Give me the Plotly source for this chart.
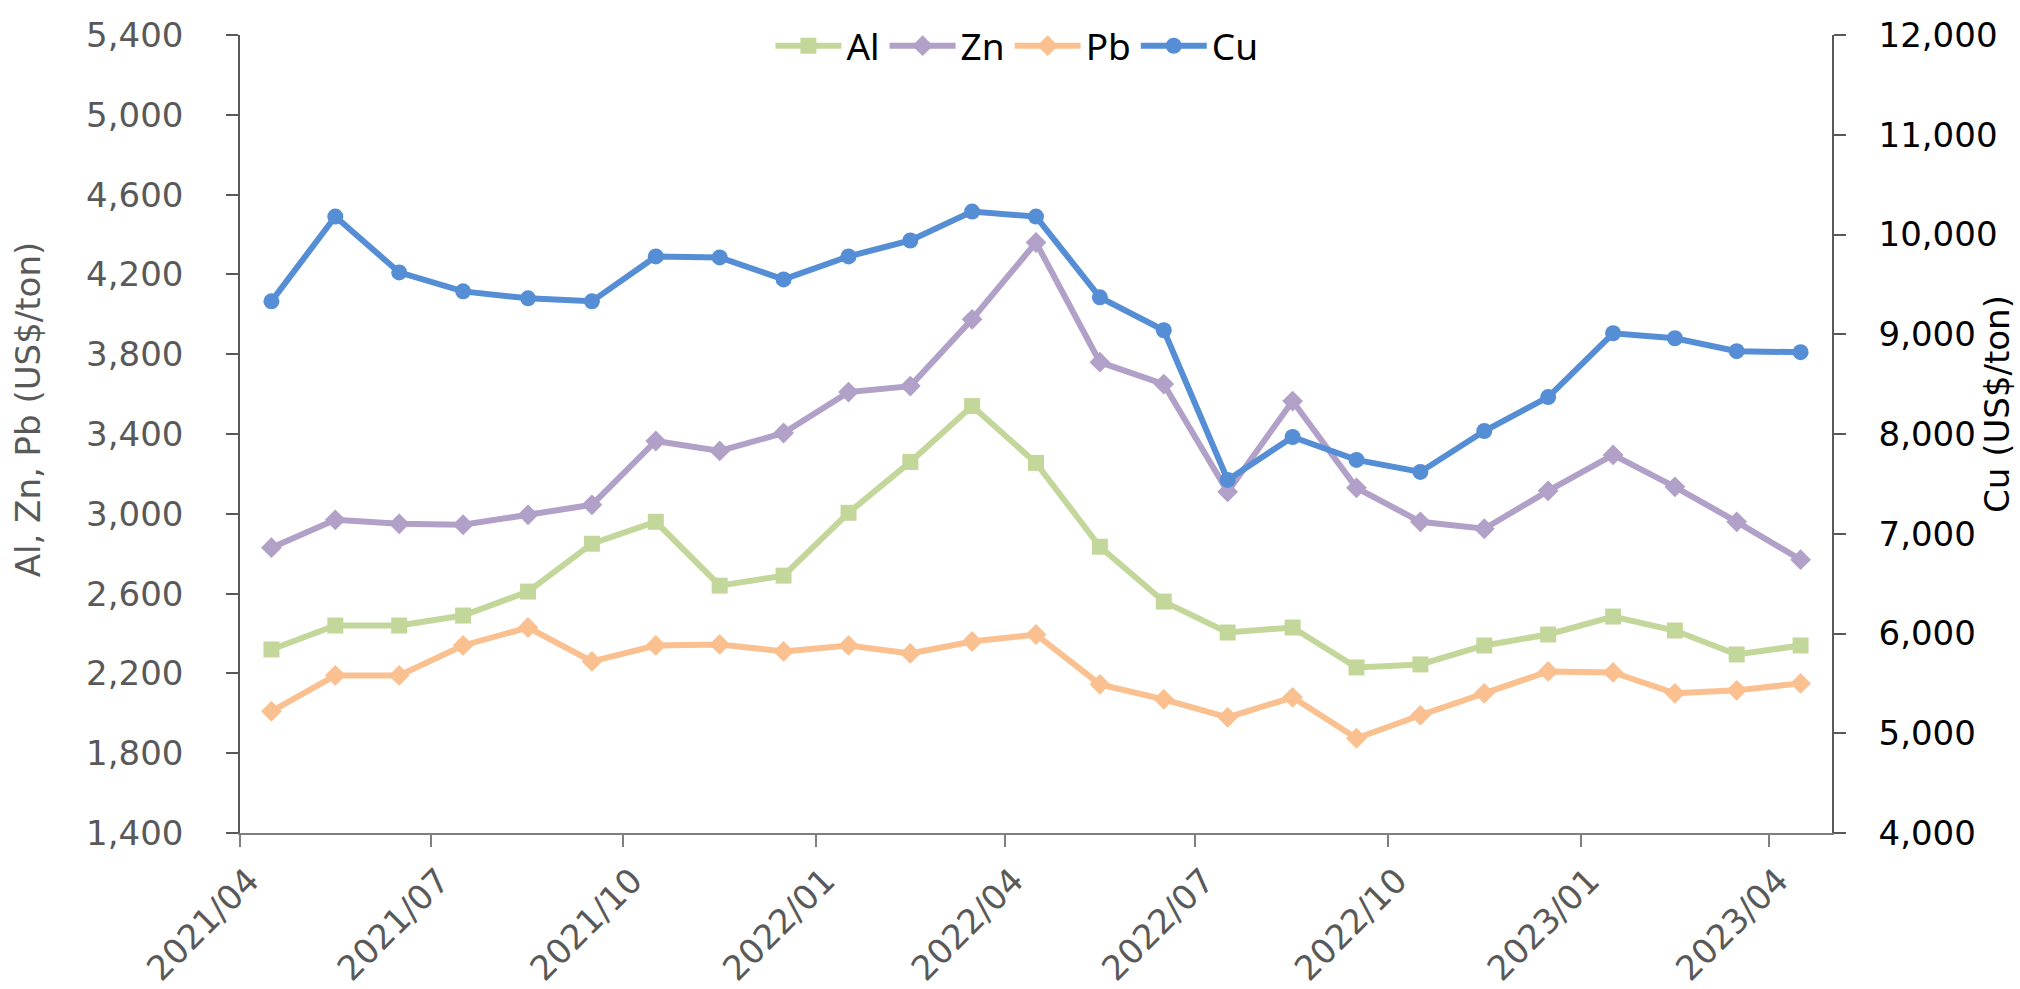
import pandas as pd
import plotly.graph_objects as go

# Monthly average prices, April 2021 - April 2023 (US$/ton)
months = pd.date_range("2021-04-01", periods=25, freq="MS")

aluminium = [2320, 2440, 2440, 2490, 2610, 2850, 2960, 2640, 2690, 3005, 3260, 3540, 3255,
             2835, 2560, 2405, 2430, 2230, 2245, 2340, 2395, 2485, 2415, 2295, 2340]
zinc = [2830, 2970, 2950, 2945, 2995, 3045, 3365, 3315, 3405, 3610, 3640, 3975, 4360,
        3760, 3650, 3110, 3565, 3130, 2960, 2925, 3115, 3295, 3135, 2960, 2770]
lead = [2010, 2190, 2190, 2340, 2430, 2260, 2340, 2345, 2310, 2340, 2300, 2360, 2395,
        2145, 2070, 1980, 2080, 1875, 1990, 2100, 2210, 2205, 2100, 2115, 2150]
copper = [9330, 10180, 9620, 9430, 9360, 9330, 9780, 9770, 9550, 9780, 9940, 10230, 10180,
          9370, 9040, 7540, 7970, 7740, 7620, 8030, 8370, 9010, 8960, 8830, 8820]

# each monthly value sits in the middle of its month
x_mid = months + pd.to_timedelta(months.days_in_month / 2, unit="D")

series = [
    ("Al", aluminium, "#C4D79B", "square", 16, "y"),
    ("Zn", zinc, "#B1A0C7", "diamond", 16, "y"),
    ("Pb", lead, "#FAC090", "diamond", 16, "y"),
    ("Cu", copper, "#558ED5", "circle", 16, "y2"),
]

fig = go.Figure()
for name, values, color, symbol, size, axis in series:
    fig.add_trace(go.Scatter(
        x=x_mid, y=values, name=name, yaxis=axis, mode="lines+markers",
        line=dict(color=color, width=6),
        marker=dict(symbol=symbol, size=size, color=color),
    ))

gray = "#595959"
fig.update_layout(
    width=2020, height=989,
    margin=dict(l=240, r=188, t=35, b=156),
    paper_bgcolor="white", plot_bgcolor="white",
    font=dict(family="DejaVu Sans", size=34, color=gray),
    legend=dict(
        orientation="h", x=0.488, xanchor="center", y=0.986, yanchor="middle",
        font=dict(family="Noto Sans", size=37, color="black"),
        bgcolor="rgba(0,0,0,0)", itemwidth=66, tracegroupgap=0,
    ),
    xaxis=dict(
        type="date", range=["2021-04-01", "2023-05-01"],
        tick0="2021-04-01", dtick="M3", tickformat="%Y/%m", tickangle=-45,
        ticks="outside", ticklen=12, tickwidth=2, tickcolor="#7f7f7f",
        showline=True, linecolor="#7f7f7f", linewidth=2,
        showgrid=False, zeroline=False, automargin=False,
        ticklabelshift=9,
        tickfont=dict(size=34, color=gray),
    ),
    yaxis=dict(
        range=[1400, 5400], tick0=1400, dtick=400, tickformat=",d",
        ticks="outside", ticklen=12, tickwidth=1.5, tickcolor=gray,
        showline=True, linecolor=gray, linewidth=1.5,
        showgrid=False, zeroline=False, ticklabelstandoff=36, automargin=False,
        tickfont=dict(size=34, color=gray),
    ),
    yaxis2=dict(
        overlaying="y", side="right",
        range=[4000, 12000], tick0=4000, dtick=1000, tickformat=",d",
        ticks="outside", ticklen=12, tickwidth=1.5, tickcolor=gray,
        showline=True, linecolor=gray, linewidth=1.5,
        showgrid=False, zeroline=False, ticklabelstandoff=26, automargin=False,
        tickfont=dict(size=34, color="black"),
    ),
    annotations=[
        dict(text="Al, Zn, Pb (US$/ton)", xref="paper", yref="paper",
             x=-0.1332, y=0.531, textangle=-90, showarrow=False,
             xanchor="center", yanchor="middle",
             font=dict(size=34, color=gray)),
        dict(text="Cu (US$/ton)", xref="paper", yref="paper",
             x=1.1036, y=0.5376, textangle=-90, showarrow=False,
             xanchor="center", yanchor="middle",
             font=dict(size=34, color="black")),
    ],
)

fig.write_html("out.html")
